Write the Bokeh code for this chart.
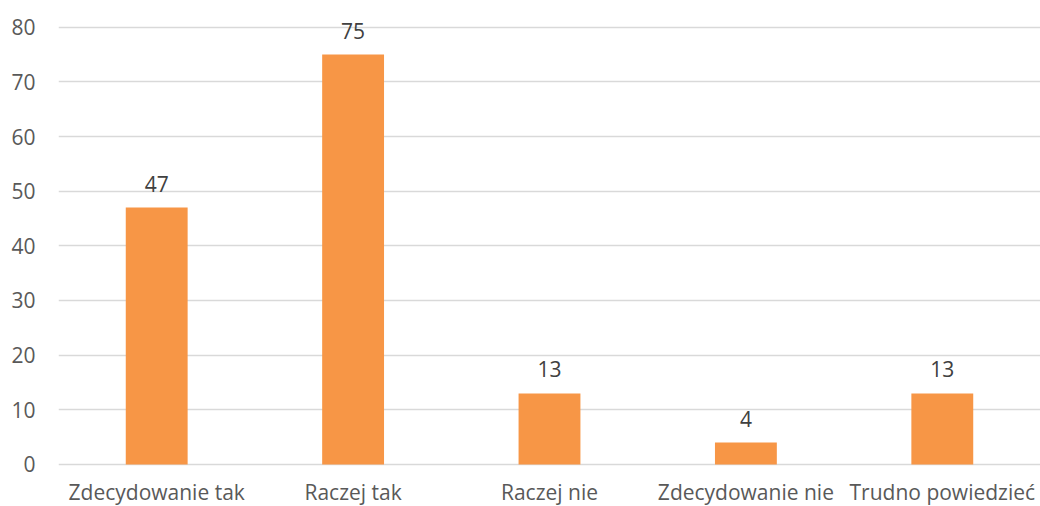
from bokeh.plotting import figure
from bokeh.models import ColumnDataSource, Range1d, FixedTicker
from bokeh.core.properties import value
from bokeh.embed import file_html
from bokeh.resources import INLINE

categories = ["Zdecydowanie tak", "Raczej tak", "Raczej nie", "Zdecydowanie nie", "Trudno powiedzieć"]
values = [47, 75, 13, 4, 13]
y_ticks = [0, 10, 20, 30, 40, 50, 60, 70, 80]

FONT = "Open Sans"
TXT = "#595959"

src = ColumnDataSource(dict(cat=categories, val=values, lbl=[str(v) for v in values],
                            zero=[0] * len(values)))

# frame spans the whole canvas height; range padded so 80 sits near the top and
# category labels fit below 0
p = figure(x_range=categories, y_range=Range1d(-7.7, 84.9), width=1040, height=506,
           output_backend="svg", toolbar_location=None,
           min_border_left=58, min_border_right=0, min_border_top=0, min_border_bottom=0)
p.outline_line_color = None
p.background_fill_color = "white"
p.border_fill_color = "white"

p.vbar(x="cat", top="val", width=0.315, source=src, fill_color="#F79646", line_color=None)
p.text(x="cat", y="val", text="lbl", source=src, text_align="center", text_baseline="middle",
       y_offset=-24, text_font=value(FONT), text_font_size="21px", text_color="#404040")
p.text(x="cat", y="zero", text="cat", source=src, text_align="center", text_baseline="middle",
       y_offset=28, text_font=value(FONT), text_font_size="21px", text_color=TXT)

p.xgrid.grid_line_color = None
p.ygrid.grid_line_color = "#D9D9D9"
p.ygrid.grid_line_width = 1.5
p.yaxis.ticker = FixedTicker(ticks=y_ticks)
p.xaxis.visible = False

ax = p.yaxis
ax.axis_line_color = None
ax.major_tick_line_color = None
ax.minor_tick_line_color = None
ax.major_label_text_font = FONT
ax.major_label_text_font_size = "21px"
ax.major_label_text_color = TXT
ax.major_label_standoff = 17

open("out.html", "w").write(file_html(p, INLINE))
